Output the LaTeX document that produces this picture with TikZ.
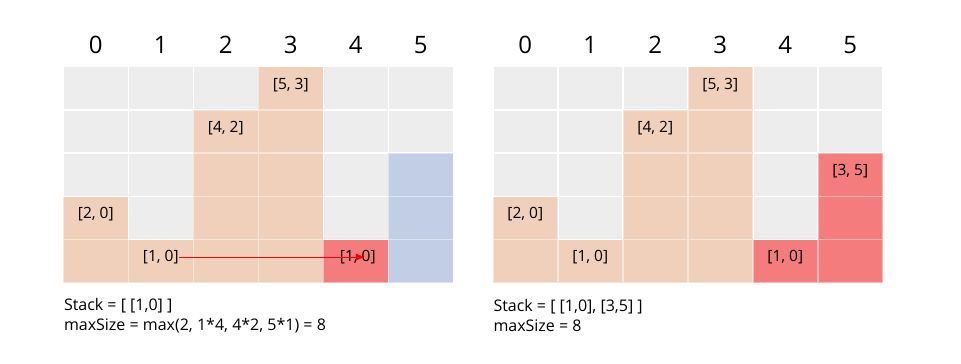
\documentclass[tikz,border=0pt]{standalone}
\usepackage{fontspec}
\setmainfont{Open Sans}
\usetikzlibrary{arrows.meta}
\definecolor{cellgray}{HTML}{EDEDED}
\definecolor{barpeach}{HTML}{F1D0BB}
\definecolor{barred}{HTML}{F47C7C}
\definecolor{barblue}{HTML}{C2CEE5}
\begin{document}
\begin{tikzpicture}[x=1pt,y=-1pt,inner sep=0pt,outer sep=0pt,
cell/.style={rectangle,minimum width=63.6pt,minimum height=41.8pt,fill=cellgray},
idx/.style={font=\fontsize{24}{28}\selectfont},
pair/.style={font=\fontsize{15.5}{18}\selectfont},
note/.style={font=\fontsize{16}{19.5}\selectfont,align=left,anchor=west},
move/.style={->,>={Triangle[length=8pt,width=7pt]},red,line width=1pt}]
\useasboundingbox (0,0) rectangle (961,364);
% left grid
\foreach \c/\h/\col in {0/2/barpeach,1/1/barpeach,2/4/barpeach,3/5/barpeach,4/1/barred,5/3/barblue}{
  \node[idx] (Lh\c) at ({95.8+65*\c},45) {\c};
  \fill[\col!55] ({63.3+65*\c},{283-43.2*\h}) rectangle ++(65,{43.2*\h});
  \foreach \r in {1,...,5}{
    \ifnum\r>\numexpr5-\h\relax\def\fc{\col}\else\def\fc{cellgray}\fi
    \node[cell,fill=\fc] (L\c-\r) at ({95.8+65*\c},{88.3+43.2*(\r-1)}) {};
  }
}
\node[pair] (La) at ([yshift=3pt]L3-1.center) {[5, 3]};
\node[pair] (Lb) at ([yshift=3pt]L2-2.center) {[4, 2]};
\node[pair] (Lc) at ([yshift=4pt]L0-4.center) {[2, 0]};
\node[pair] (Ld) at ([yshift=4pt]L1-5.center) {[1, 0]};
\node[pair] (Le) at ([yshift=4pt,xshift=2pt]L4-5.center) {[1, 0]};
\draw[move] (Ld.east) -- ([xshift=6pt]Le.center);
\node[note] (Lnote) at (64,315.5) {Stack = [ [1,0] ]\\maxSize = max(2, 1*4, 4*2, 5*1) = 8};
% right grid
\foreach \c/\h/\col in {0/2/barpeach,1/1/barpeach,2/4/barpeach,3/5/barpeach,4/1/barred,5/3/barred}{
  \node[idx] (Rh\c) at ({525.3+65*\c},45) {\c};
  \fill[\col!55] ({492.8+65*\c},{283-43.2*\h}) rectangle ++(65,{43.2*\h});
  \foreach \r in {1,...,5}{
    \ifnum\r>\numexpr5-\h\relax\def\fc{\col}\else\def\fc{cellgray}\fi
    \node[cell,fill=\fc] (R\c-\r) at ({525.3+65*\c},{88.3+43.2*(\r-1)}) {};
  }
}
\node[pair] (Ra) at ([yshift=3pt]R3-1.center) {[5, 3]};
\node[pair] (Rb) at ([yshift=3pt]R2-2.center) {[4, 2]};
\node[pair] (Rf) at ([yshift=4pt]R5-3.center) {[3, 5]};
\node[pair] (Rc) at ([yshift=4pt]R0-4.center) {[2, 0]};
\node[pair] (Rd) at ([yshift=4pt]R1-5.center) {[1, 0]};
\node[pair] (Re) at ([yshift=4pt]R4-5.center) {[1, 0]};
\node[note] (Rnote) at (493.5,315.5) {Stack = [ [1,0], [3,5] ]\\maxSize = 8};
\end{tikzpicture}
\end{document}
